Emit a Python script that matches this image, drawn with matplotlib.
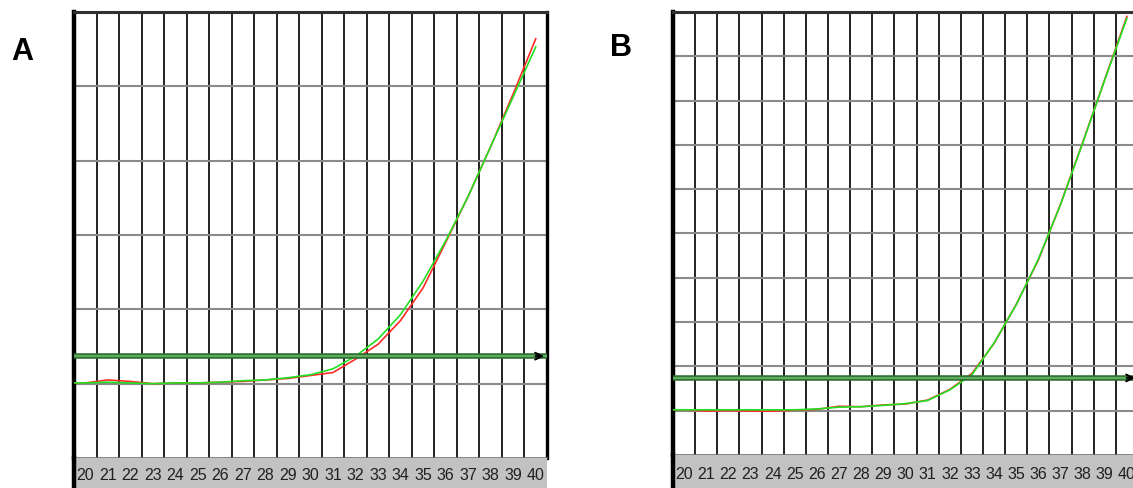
import numpy as np
import matplotlib
matplotlib.use("Agg")
import matplotlib.pyplot as plt
import matplotlib.transforms as mtransforms

# cycles (19 is the baseline just left of the first column, clipped)
cycles = [19, 20, 21, 22, 23, 24, 25, 26, 27, 28, 29, 30,
          31, 32, 33, 34, 35, 36, 37, 38, 39, 40]

# panel A fluorescence (arbitrary units, 6 grid rows)
a_green = [1.01, 1.01, 1.02, 1.01, 1.00, 1.01, 1.01, 1.02, 1.04, 1.05, 1.08, 1.12,
           1.20, 1.37, 1.60, 1.93, 2.38, 2.92, 3.52, 4.19, 4.86, 5.53]
a_red = [1.01, 1.01, 1.05, 1.03, 1.00, 1.01, 1.01, 1.02, 1.03, 1.05, 1.07, 1.11,
         1.15, 1.33, 1.53, 1.85, 2.29, 2.90, 3.52, 4.19, 4.90, 5.64]
a_threshold = 1.37

# panel B fluorescence (10 grid rows)
b_green = [1.02, 1.02, 1.02, 1.02, 1.02, 1.02, 1.02, 1.04, 1.08, 1.09, 1.12, 1.16,
           1.23, 1.47, 1.81, 2.53, 3.39, 4.42, 5.65, 7.04, 8.47, 9.86]
b_red = [1.02, 1.02, 0.99, 1.00, 0.99, 0.99, 1.01, 1.03, 1.10, 1.09, 1.13, 1.15,
         1.24, 1.48, 1.84, 2.52, 3.40, 4.40, 5.66, 7.05, 8.48, 9.90]
b_threshold = 1.74

tick_cycles = list(range(20, 41))

W, H = 1133, 488
fig = plt.figure(figsize=(W / 100, H / 100), dpi=100)


def px(l, b, w, h):
    # pixel box (from bottom-left) -> figure fraction
    return [l / W, b / H, w / W, h / H]


def panel(rect, bar_rect, ymax, green, red, thr, letter, letter_xy):
    ax = fig.add_axes(rect)
    ax.set_xlim(19.5, 40.5)
    ax.set_ylim(0, ymax)
    # vertical grid: black, horizontal: grey
    for x in np.arange(20.5, 40, 1):
        ax.axvline(x, color="#222222", lw=1.4, zorder=1)
    for y in range(1, ymax):
        ax.axhline(y, color="#8a8a8a", lw=1.5, zorder=1)
    ax.plot(cycles, red, color="#ff2a2a", lw=1.2, zorder=3)
    ax.plot(cycles, green, color="#22e022", lw=1.2, zorder=4)
    # threshold line
    ax.axhline(thr, color="#2f6f2f", lw=4.0, zorder=5)
    ax.axhline(thr, color="#5fae5f", lw=1.5, zorder=6)
    trans = mtransforms.blended_transform_factory(ax.transAxes, ax.transData)
    ax.annotate("", xy=(1.0, thr), xytext=(0.97, thr), xycoords=trans,
                textcoords=trans,
                arrowprops=dict(arrowstyle="->", color="black", lw=1.5,
                                mutation_scale=12), zorder=7,
                annotation_clip=False)
    ax.set_xticks([])
    ax.set_yticks([])
    ax.spines["left"].set_linewidth(3.2)
    ax.spines["left"].set_color("black")
    ax.spines["top"].set_linewidth(2.2)
    ax.spines["top"].set_color("#303030")
    ax.spines["right"].set_linewidth(2.4)
    ax.spines["right"].set_color("black")
    ax.spines["bottom"].set_linewidth(1.2)
    ax.spines["bottom"].set_color("#707070")

    bar = fig.add_axes(bar_rect)
    bar.set_facecolor("#c2c2c2")
    bar.set_xlim(19.5, 40.5)
    bar.set_ylim(0, 1)
    bar.set_xticks([])
    bar.set_yticks([])
    for s in ["top", "right", "bottom"]:
        bar.spines[s].set_visible(False)
    bar.spines["left"].set_linewidth(3.2)
    bar.spines["left"].set_color("black")
    for c in tick_cycles:
        bar.text(c, 0.40, str(c), ha="center", va="center", fontsize=11.5,
                 family=["Liberation Sans", "DejaVu Sans"],
                 color="#202020")

    fig.text(letter_xy[0] / W, 1 - letter_xy[1] / H, letter, fontsize=22,
             fontweight="bold", family=["Liberation Sans", "DejaVu Sans"],
             ha="center", va="center")


panel(px(74, 30, 473, 446), px(74, 0, 473, 30), 6, a_green, a_red,
      a_threshold, "A", (22, 52))
panel(px(673, 33, 465, 443), px(673, 0, 465, 33), 10, b_green, b_red,
      b_threshold, "B", (621, 48))

fig.savefig("out.png", dpi=100)
